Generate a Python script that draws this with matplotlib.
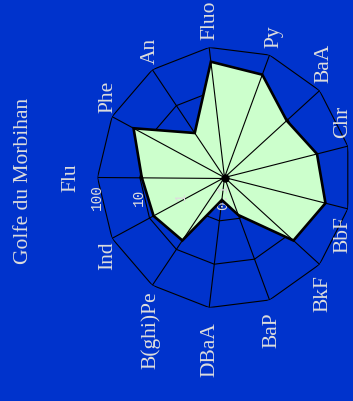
import numpy as np
import matplotlib
matplotlib.use("Agg")
import matplotlib.pyplot as plt
from matplotlib.transforms import offset_copy

# PAH concentrations (log scale), one axis per compound
categories = ["Flu", "Phe", "An", "Fluo", "Py", "BaA", "Chr",
              "BbF", "BkF", "BaP", "DBaA", "B(ghi)Pe", "Ind"]
values = [9.0, 26.7, 1.73, 46.8, 33.0, 9.2, 17.8, 28.6, 15.0, 0.83, 0.33, 5.65, 7.8]
ring_values = [1, 10, 100]
tick_values = [0.1, 1, 10, 100]
tick_labels = ["0.1", "1", "10", "100"]
title = "Golfe du Morbihan"

BG = "#0033cc"
FILL = "#ccffcc"
TEXT = "#dddddd"
FONT = "Liberation Serif"

W, H = 353, 401
fig = plt.figure(figsize=(W / 100, H / 100), dpi=100, facecolor=BG)

# plot area (slightly taller than wide)
cx, cy, rx, ry = 224.5, 177.5, 127.0, 131.0
ax = fig.add_axes([(cx - rx) / W, (H - cy - ry) / H, 2 * rx / W, 2 * ry / H],
                  projection="polar")
ax.set_aspect("auto")
ax.set_theta_offset(np.pi)
ax.set_theta_direction(-1)
ax.set_rscale("log")
ax.set_rlim(0.1, 100)
ax.grid(False)
ax.set_xticks([])
ax.set_yticks([])
ax.spines["polar"].set_visible(False)
ax.patch.set_visible(False)

n = len(categories)
theta = 2 * np.pi * np.arange(n) / n
th_c = np.append(theta, theta[0])
val_c = np.append(values, values[0])

# polygonal rings
for rv in ring_values:
    ax.plot(th_c, [rv] * (n + 1), color="black", lw=0.8, zorder=1)

# data polygon
ax.fill(th_c, val_c, color=FILL, zorder=2, lw=0)
# spokes
for t in theta:
    ax.plot([t, t], [0.1, 100], color="black", lw=0.8, zorder=3)
ax.plot(th_c, val_c, color="black", lw=1.9, zorder=4, solid_joinstyle="miter")
ax.plot([0], [0.1], "o", color="black", ms=5, zorder=5, clip_on=False)

# radial tick labels below the first spoke
tick_tr = offset_copy(ax.transData, fig=fig, x=-1, y=-19.5, units="dots")
for tv, tl in zip(tick_values, tick_labels):
    ax.text(0, tv, tl, transform=tick_tr, rotation=90, ha="center", va="center",
            color=TEXT, fontsize=10.4, family="Liberation Mono", clip_on=False)

# category labels
nudge = {"Chr": (-14, 6), "BbF": (-14, -6), "BaA": (-3, 3), "BkF": (-4, -6),
         "BaP": (-2, -6), "DBaA": (0, -8), "Flu": (1, 0)}
for t, cat in zip(theta, categories):
    a = np.pi - t
    if cat == "Flu":
        k, ha, va = 1.16, "right", "center"
    else:
        k, ha = 1.055, "center"
        va = "bottom" if np.sin(a) > 0 else "top"
    dx, dy = nudge.get(cat, (0, 0))
    tr = offset_copy(ax.transData, fig=fig, x=dx + 2, y=dy, units="dots")
    r_lab = 0.1 * 10 ** (3 * k)
    ax.text(t, r_lab, cat, transform=tr, rotation=90, ha=ha, va=va,
            color=TEXT, fontsize=15.5, family=FONT, clip_on=False)

fig.text(23.5 / W, 1 - 180.5 / H, title, rotation=90, ha="center", va="center",
         color=TEXT, fontsize=15.5, family=FONT)

fig.savefig("out.png", dpi=100, facecolor=BG)
